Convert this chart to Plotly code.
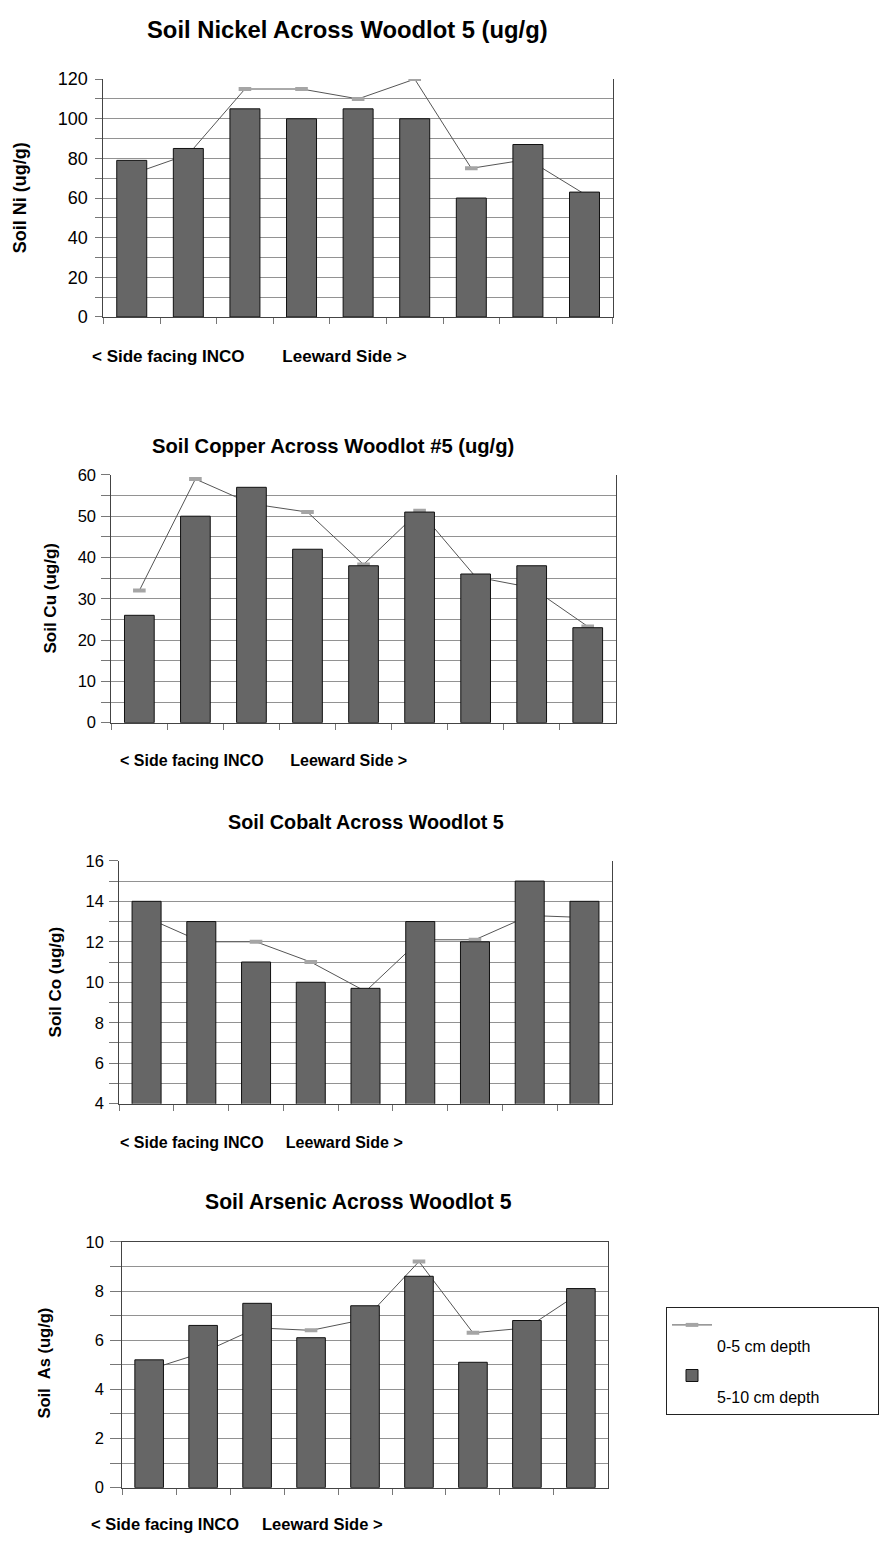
import plotly.graph_objects as go

W, H = 879, 1547
FONT = "Liberation Sans, Arial, sans-serif"

# ---------------- data ----------------
sites = ["1", "2", "3", "4", "5", "6", "7", "8", "9"]

ni_0_5 = [72, 82, 115, 115, 110, 120, 75, 79.5, 62]
ni_5_10 = [79, 85, 105, 100, 105, 100, 60, 87, 63]

cu_0_5 = [32, 59, 53, 51, 38.3, 51.3, 35.3, 32.7, 23.3]
cu_5_10 = [26, 50, 57, 42, 38, 51, 36, 38, 23]

co_0_5 = [13.2, 12.0, 12, 11, 9.55, 12.1, 12.1, 13.3, 13.2]
co_5_10 = [14, 13, 11, 10, 9.7, 13, 12, 15, 14]

as_0_5 = [4.8, 5.5, 6.5, 6.4, 6.85, 9.2, 6.3, 6.5, 7.95]
as_5_10 = [5.2, 6.6, 7.5, 6.1, 7.4, 8.6, 5.1, 6.8, 8.1]

titles = [
    "Soil Nickel Across Woodlot 5 (ug/g)",
    "Soil Copper Across Woodlot #5 (ug/g)",
    "Soil Cobalt Across Woodlot 5",
    "Soil Arsenic Across Woodlot 5",
]
y_titles = ["Soil Ni (ug/g)", "Soil Cu (ug/g)", "Soil Co (ug/g)", "Soil&nbsp;&nbsp;As (ug/g)"]
side_left = "< Side facing INCO"
side_right = "Leeward Side >"
series_names = ["0-5 cm depth", "5-10 cm depth"]

y_ranges = [[0, 120], [0, 60], [4, 16], [0, 10]]
y_major = [20, 10, 2, 2]
y_minor = [10, 5, 1, 1]

top_depth = [ni_0_5, cu_0_5, co_0_5, as_0_5]
low_depth = [ni_5_10, cu_5_10, co_5_10, as_5_10]

# ---------------- layout (pixel boxes) ----------------
panels = [
    dict(l=105, r=622, t=70, b=311, tlx=353, tly=20, tfs=23.8, fs=18, tl=7, so=4,
         ytx=20, yty=190, ytf=18, sx=91, sy=351, sfs=17, gap=8, top=False),
    dict(l=113, r=625, t=471, b=722, tlx=338, tly=442, tfs=20.2, fs=16.5, tl=9, so=2,
         ytx=51, yty=596, ytf=17, sx=120, sy=760, sfs=16, gap=6, top=False),
    dict(l=121, r=621, t=862, b=1108, tlx=372, tly=823, tfs=19.8, fs=16.5, tl=9, so=2,
         ytx=56, yty=985, ytf=17, sx=120, sy=1147, sfs=16, gap=5, top=False),
    dict(l=124, r=617, t=1248, b=1497, tlx=364, tly=1207, tfs=21.2, fs=16.5, tl=11, so=3,
         ytx=45, yty=1371, ytf=16.5, sx=90, sy=1534, sfs=16.5, gap=5, top=True),
]

GRID = "#929292"
AXC = "#444444"

fig = go.Figure()
layout = dict(
    width=W, height=H, margin=dict(l=0, r=0, t=0, b=0),
    paper_bgcolor="white", plot_bgcolor="white",
    font=dict(family=FONT, color="black"),
    barmode="overlay", showlegend=True, annotations=[],
)

for i, p in enumerate(panels):
    bx, by = 2 * i + 1, 2 * i + 1
    ox, oy = 2 * i + 2, 2 * i + 2
    bxn = "x" if bx == 1 else f"x{bx}"
    byn = "y" if by == 1 else f"y{by}"
    oxn, oyn = f"x{ox}", f"y{oy}"
    xdom = [p["l"] / W, p["r"] / W]
    ydom = [1 - p["b"] / H, 1 - p["t"] / H]

    # 0-5 cm line on base axes (drawn beneath the bars)
    fig.add_trace(go.Scatter(
        x=sites, y=top_depth[i],
        name="&nbsp;<br>" + series_names[0] + "&nbsp;" * 14,
        xaxis=bxn, yaxis=byn, mode="lines+markers",
        line=dict(color="#555555", width=1),
        marker=dict(symbol="line-ew", size=9, color="#b5b5b5",
                    line=dict(color="#a5a5a5", width=4)),
        showlegend=(i == 0), legendrank=1, legendgroup="a",
    ))
    # 5-10 cm bars on overlay axes
    fig.add_trace(go.Bar(
        x=sites, y=low_depth[i],
        name="&nbsp;<br>" + series_names[1],
        xaxis=oxn, yaxis=oyn, width=0.53,
        marker=dict(color="#666666", line=dict(color="#111111", width=1)),
        showlegend=(i == 0), legendrank=2, legendgroup="b",
    ))

    key_bx = "xaxis" if bx == 1 else f"xaxis{bx}"
    key_by = "yaxis" if by == 1 else f"yaxis{by}"
    layout[key_bx] = dict(
        domain=xdom, anchor=byn, type="category", categoryarray=sites,
        range=[-0.5, 8.5], showticklabels=False, showgrid=False, zeroline=False,
        showline=True, linecolor=AXC, linewidth=1,
        mirror=p["top"],
        ticks="outside", tickson="boundaries", ticklen=6, tickcolor="#777777",
    )
    layout[key_by] = dict(
        domain=ydom, anchor=bxn, range=y_ranges[i], dtick=y_major[i],
        tick0=y_ranges[i][0],
        showgrid=True, gridcolor=GRID, gridwidth=1, zeroline=False,
        showline=True, linecolor=AXC, linewidth=1, mirror=True,
        ticks="outside", ticklen=p["tl"], tickcolor="#777777",
        ticklabelstandoff=p["so"],
        tickfont=dict(family=FONT, size=p["fs"], color="black"),
        minor=dict(dtick=y_minor[i], ticks="outside", ticklen=p["tl"],
                   tickcolor="#777777", showgrid=True, gridcolor=GRID),
    )
    layout[f"xaxis{ox}"] = dict(
        overlaying=bxn, anchor=oyn, type="category", categoryarray=sites,
        range=[-0.5, 8.5], visible=False,
    )
    layout[f"yaxis{oy}"] = dict(
        overlaying=byn, anchor=oxn, range=y_ranges[i], visible=False,
    )

    ann = layout["annotations"]
    ann.append(dict(
        text=f"<b>{titles[i]}</b>", xref="paper", yref="paper",
        x=p["tlx"] / W, y=1 - p["tly"] / H, xanchor="center", yanchor="middle",
        showarrow=False, font=dict(family=FONT, size=p["tfs"], color="black"),
    ))
    ann.append(dict(
        text=f"<b>{y_titles[i]}</b>", xref="paper", yref="paper",
        x=p["ytx"] / W, y=1 - p["yty"] / H, xanchor="center", yanchor="middle",
        textangle=-90, showarrow=False,
        font=dict(family=FONT, size=p["ytf"], color="black"),
    ))
    side = side_left + "&nbsp;" * p["gap"] + side_right
    ann.append(dict(
        text=f"<b>{side}</b>", xref="paper", yref="paper",
        x=p["sx"] / W, y=1 - p["sy"] / H, xanchor="left", yanchor="middle",
        showarrow=False, font=dict(family=FONT, size=p["sfs"], color="black"),
    ))

layout["legend"] = dict(
    x=676 / W, y=1 - 1314 / H, xanchor="left", yanchor="top",
    bgcolor="white", bordercolor="#222222", borderwidth=1,
    font=dict(family=FONT, size=16, color="black"),
    itemwidth=40, valign="top", traceorder="grouped", tracegroupgap=6,
)

fig.update_layout(**layout)
fig.write_html(
    "out.html",
    config={"displayModeBar": False},
    post_script="document.body.style.margin='0px';",
)
